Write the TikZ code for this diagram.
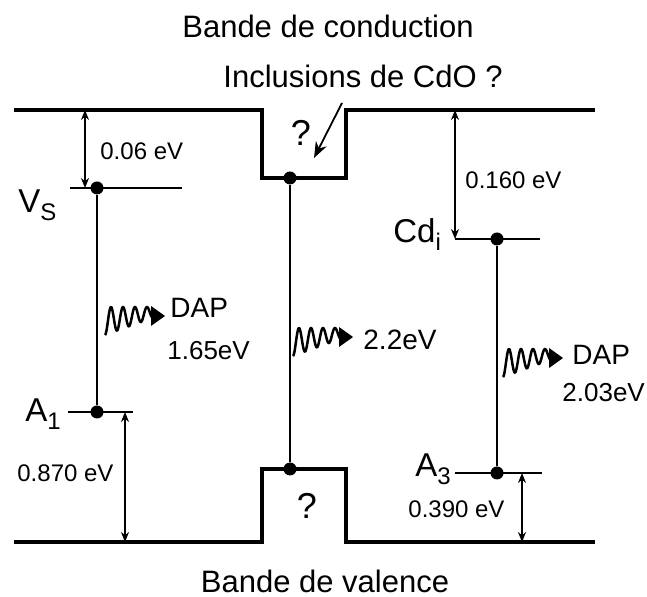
\documentclass[tikz,border=0pt]{standalone}
\usepackage{fontspec}
\setmainfont{Liberation Sans}
\usetikzlibrary{arrows.meta, positioning, calc}

\begin{document}
\begin{tikzpicture}[
    x=0.5pt, y=-0.5pt,
    >= {Stealth[length=5pt, width=4pt]},
    band/.style={line width=2pt, line join=miter},
    level/.style={line width=0.9pt},
    trans/.style={line width=0.8pt},
    dot/.style={circle, fill=black, inner sep=0pt, minimum size=6.5pt},
    gap/.style={<->, line width=0.8pt},
    title/.style={font=\fontsize{15.5}{18}\selectfont, anchor=base},
    state/.style={font=\fontsize{16.5}{19}\selectfont, anchor=base west, inner sep=0pt},
    energy/.style={font=\fontsize{12}{14}\selectfont, anchor=base west, inner sep=0pt},
    emit/.style={font=\fontsize{14}{16}\selectfont, anchor=base west, inner sep=0pt},
    ]

    \useasboundingbox (0,0) rectangle (647,597);

    % Define a macro for the emitted photon (wavy line + triangular head)
    \newcommand{\photon}[3]{
        \begin{scope}[shift={(#2,#3)}]
            % Squiggle with decaying amplitude
            \draw[line width=1.25pt, line join=round] plot[domain=0:48, samples=97]
                (\x, {(28-0.36*\x)*(1+cos(30*\x))/2});
            % Arrow head
            \fill (46,-1) -- (60,9) -- (46,19) -- cycle;
            \coordinate (#1) at (60,9);
        \end{scope}
    }

    % ==========================================
    % Bands
    % ==========================================
    \draw[band] (14,110) -- (262,110) -- (262,178) -- (346,178) -- (346,110) -- (595,110);
    \draw[band] (14,542) -- (262,542) -- (262,469) -- (346,469) -- (346,542) -- (595,542);

    \node[title] (cond) at (328,38) {Bande de conduction};
    \node[title] (val) at (325,592) {Bande de valence};
    \node[title] (incl) at (363,88) {Inclusions de CdO ?};

    \node[font=\fontsize{18}{20}\selectfont, anchor=base] (q-top) at (301,146) {?};
    \node[font=\fontsize{18}{20}\selectfont, anchor=base] (q-bot) at (307,519) {?};

    \coordinate (incl-tail) at (342,103);
    \coordinate (incl-tip) at (314,158);
    \draw[-{Stealth[length=8pt, width=6pt]}, line width=0.9pt] (incl-tail) -- (incl-tip);

    % ==========================================
    % Levels
    % ==========================================
    % V_S and A_1
    \draw[level] (70,188) -- (182,188);
    \draw[level] (68,412) -- (133,412);
    \node[dot] (vs) at (97,188) {};
    \node[dot] (a1) at (97,412) {};
    \draw[trans] (vs) -- (a1);

    % Central inclusion transition
    \node[dot] (cdo-c) at (290,178) {};
    \node[dot] (cdo-v) at (290,469) {};
    \draw[trans] (cdo-c) -- (cdo-v);

    % Cd_i and A_3
    \draw[level] (455,239) -- (540,239);
    \draw[level] (455,473) -- (542,473);
    \node[dot] (cdi) at (497,239) {};
    \node[dot] (a3) at (497,473) {};
    \draw[trans] (cdi) -- (a3);

    % State labels
    \node[state] (lbl-vs) at (18,213) {V\raisebox{-0.45ex}{\fontsize{12}{12}\selectfont S}};
    \node[state] (lbl-a1) at (25,422) {A\raisebox{-0.45ex}{\fontsize{12}{12}\selectfont 1}};
    \node[state] (lbl-cdi) at (393,243) {Cd\raisebox{-0.45ex}{\fontsize{12}{12}\selectfont i}};
    \node[state] (lbl-a3) at (415,477) {A\raisebox{-0.45ex}{\fontsize{12}{12}\selectfont 3}};

    % ==========================================
    % Energy gaps
    % ==========================================
    \coordinate (cb-1) at (85,110);
    \coordinate (vs-1) at (85,188);
    \coordinate (a1-1) at (125,412);
    \coordinate (vb-1) at (125,542);
    \coordinate (cb-3) at (455,110);
    \coordinate (cdi-1) at (455,239);
    \coordinate (a3-1) at (522,473);
    \coordinate (vb-3) at (522,542);

    \draw[gap] (cb-1) -- (vs-1);
    \draw[gap] (a1-1) -- (vb-1);
    \draw[gap] (cb-3) -- (cdi-1);
    \draw[gap] (a3-1) -- (vb-3);

    \node[energy] (e-vs) at (100,160) {0.06 eV};
    \node[energy] (e-a1) at (17,482) {0.870 eV};
    \node[energy] (e-cdi) at (465,189) {0.160 eV};
    \node[energy] (e-a3) at (408,518) {0.390 eV};

    % ==========================================
    % Emissions
    % ==========================================
    \photon{ph-1}{105}{307}
    \photon{ph-2}{293}{328}
    \photon{ph-3}{503}{349}

    \node[emit] (dap-1) at (170,318) {DAP};
    \node[energy, font=\fontsize{13}{15}\selectfont] (en-1) at (167,360) {1.65eV};
    \node[emit] (en-2) at (363,350) {2.2eV};
    \node[emit] (dap-3) at (572,365) {DAP};
    \node[energy, font=\fontsize{13}{15}\selectfont] (en-3) at (562,402) {2.03eV};

\end{tikzpicture}
\end{document}
